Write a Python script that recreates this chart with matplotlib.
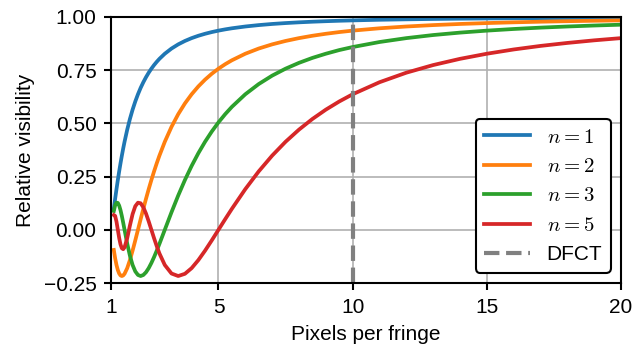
import matplotlib
matplotlib.use("Agg")
from matplotlib import pyplot as plt

plt.rcParams['font.family'] = ['Liberation Sans', 'DejaVu Sans']
plt.rcParams['mathtext.fontset'] = 'cm'

# pixels per fringe, shared by all curves
ppf = [1.1, 1.15, 1.2, 1.25, 1.3, 1.35, 1.4, 1.45, 1.5, 1.6, 1.7, 1.8, 1.9,
       2.0, 2.1, 2.2, 2.3, 2.4, 2.5, 2.6, 2.7, 2.8, 3.0, 3.25, 3.5, 3.75,
       4.0, 4.25, 4.5, 4.75, 5.0, 5.25, 5.5, 6.0, 6.5, 7.0, 7.5, 8.0, 8.5,
       9.0, 9.5, 10.0, 11.0, 12.0, 13.0, 14.0, 15.0, 16.0, 17.0, 18.0,
       19.0, 20.0]

vis_n1 = [0.0986, 0.1458, 0.1910, 0.2339, 0.2744, 0.3126, 0.3484, 0.3820,
          0.4135, 0.4705, 0.5205, 0.5643, 0.6027, 0.6366, 0.6667, 0.6931,
          0.7168, 0.7379, 0.7568, 0.7738, 0.7891, 0.8030, 0.8270, 0.8514,
          0.8710, 0.8870, 0.9003, 0.9114, 0.9207, 0.9287, 0.9355, 0.9414,
          0.9465, 0.9549, 0.9615, 0.9668, 0.9710, 0.9745, 0.9774, 0.9798,
          0.9819, 0.9836, 0.9865, 0.9886, 0.9903, 0.9916, 0.9927, 0.9936,
          0.9943, 0.9949, 0.9954, 0.9959]

vis_n2 = [-0.0946, -0.1338, -0.1654, -0.1892, -0.2054, -0.2145, -0.2172,
          -0.2144, -0.2067, -0.1801, -0.1424, -0.0980, -0.0498, 0.0, 0.0498,
          0.0986, 0.1458, 0.1910, 0.2339, 0.2744, 0.3126, 0.3484, 0.4135,
          0.4836, 0.5431, 0.5936, 0.6366, 0.6735, 0.7053, 0.7329, 0.7568,
          0.7778, 0.7962, 0.8270, 0.8514, 0.8710, 0.8870, 0.9003, 0.9114,
          0.9207, 0.9287, 0.9355, 0.9465, 0.9549, 0.9615, 0.9668, 0.9710,
          0.9745, 0.9774, 0.9798, 0.9819, 0.9836]

vis_n3 = [0.0882, 0.1150, 0.1273, 0.1261, 0.1135, 0.0921, 0.0645, 0.0331,
          0.0, -0.0650, -0.1215, -0.1654, -0.1954, -0.2122, -0.2172, -0.2123,
          -0.1994, -0.1801, -0.1559, -0.1282, -0.0980, -0.0661, 0.0, 0.0825,
          0.1611, 0.2339, 0.3001, 0.3598, 0.4135, 0.4615, 0.5046, 0.5431,
          0.5776, 0.6366, 0.6846, 0.7241, 0.7568, 0.7842, 0.8074, 0.8270,
          0.8442, 0.8584, 0.8820, 0.9003, 0.9148, 0.9262, 0.9355, 0.9432,
          0.9496, 0.9549, 0.9595, 0.9634]

vis_n5 = [0.0693, 0.0650, 0.0382, 0.0, -0.0385, -0.0689, -0.0869, -0.0911,
          -0.0827, -0.0390, 0.0199, 0.0737, 0.1108, 0.1273, 0.1245, 0.1058,
          0.0761, 0.0395, 0.0, -0.0396, -0.0771, -0.1111, -0.1654, -0.2054,
          -0.2172, -0.2067, -0.1801, -0.1424, -0.0980, -0.0498, 0.0, 0.0498,
          0.0986, 0.1910, 0.2744, 0.3484, 0.4135, 0.4705, 0.5205, 0.5643,
          0.6027, 0.6366, 0.6931, 0.7379, 0.7738, 0.8030, 0.8270, 0.8470,
          0.8637, 0.8777, 0.8899, 0.9003]

dfct_ppf = 10

series = [(vis_n1, '$n=1$', 'tab:blue'),
          (vis_n2, '$n=2$', 'tab:orange'),
          (vis_n3, '$n=3$', 'tab:green'),
          (vis_n5, '$n=5$', 'tab:red')]

fig = plt.figure(figsize=(6.35 / 1.5, 3.52 / 1.5), dpi=150)
ax = fig.add_axes([0.175, 0.196, 0.803, 0.756])

for vals, label, color in series:
    ax.plot(ppf, vals, color=color, lw=1.8, label=label)
ax.axvline(dfct_ppf, color='grey', ls='--', lw=2, label='DFCT')

ax.set_xlim(1, 20)
ax.set_ylim(-0.25, 1.0)
ax.set_xticks([1, 5, 10, 15, 20])
ax.set_yticks([-0.25, 0, 0.25, 0.5, 0.75, 1.0])
ax.grid(True, color='#b0b0b0', lw=0.8)
ax.set_axisbelow(True)
for sp in ax.spines.values():
    sp.set_linewidth(1.0)
ax.tick_params(width=1.0)
ax.set_xlabel("Pixels per fringe")
ax.set_ylabel("Relative visibility")

leg = ax.legend(loc='lower right', handlelength=2.2, framealpha=1)
leg.get_frame().set_edgecolor('black')
leg.get_frame().set_linewidth(1.0)

fig.savefig('out.png', dpi=150)
